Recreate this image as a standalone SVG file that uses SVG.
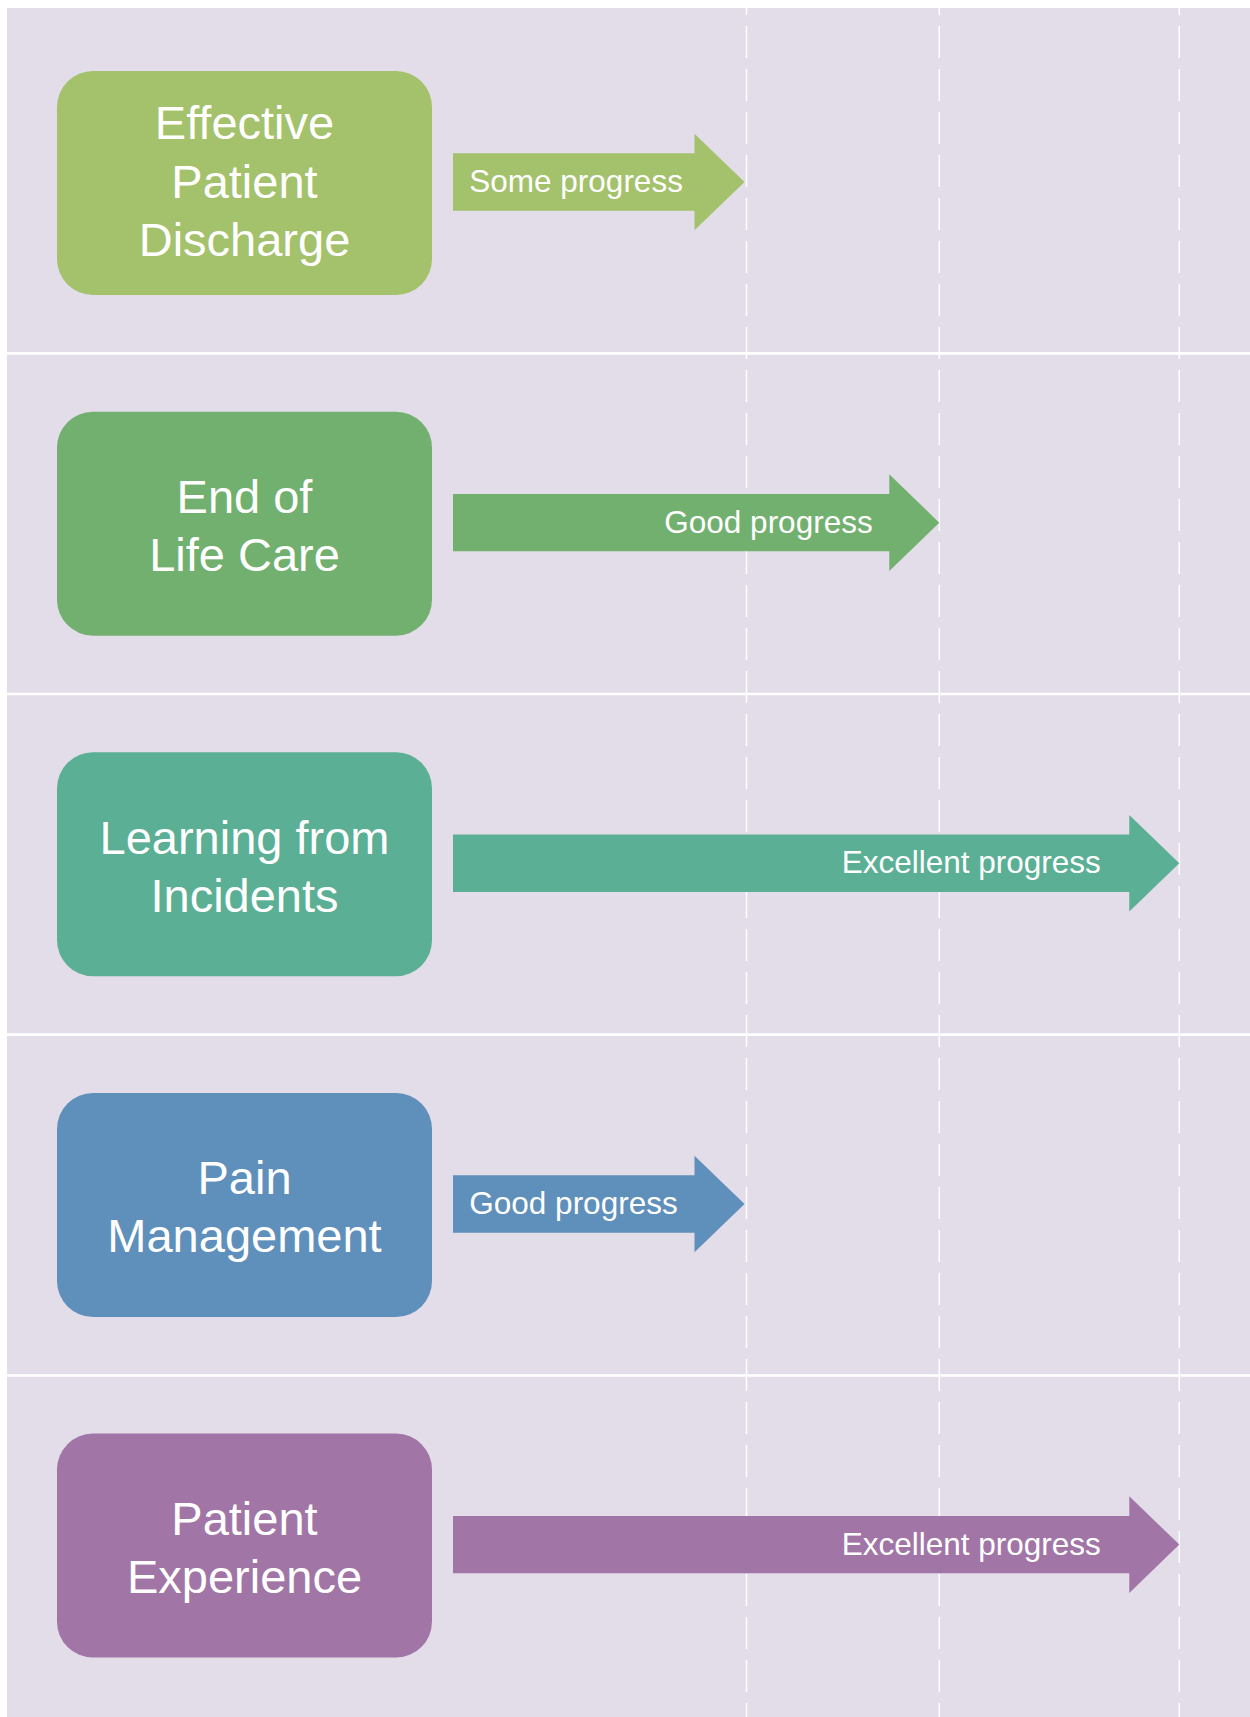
<svg xmlns="http://www.w3.org/2000/svg" width="1250" height="1717" viewBox="0 0 1250 1717">
<style>
.bg{fill:#E3DDE9}
.sep{stroke:#FFFFFF;stroke-width:2.7;fill:none}
.grid{stroke:#FFFFFF;stroke-width:1.5;fill:none;stroke-dasharray:32 11;stroke-dashoffset:25}
.box-t{font-family:"Liberation Sans",Arial,sans-serif;font-size:47px;fill:#FFFFFF;text-anchor:middle}
.arr-t{font-family:"Liberation Sans",Arial,sans-serif;font-size:31.5px;fill:#FFFFFF}
.c1{fill:#A4C16C}
.c2{fill:#72B06F}
.c3{fill:#5BAF94}
.c4{fill:#5F8FBB}
.c5{fill:#A176A6}
</style>
<rect width="1250" height="1717" fill="#FFFFFF"/>
<rect class="bg" x="7" y="8" width="1243" height="1709"/>
<g id="separators">
<line class="sep" x1="7" y1="353.3" x2="1250" y2="353.3"/>
<line class="sep" x1="7" y1="694" x2="1250" y2="694"/>
<line class="sep" x1="7" y1="1034.6" x2="1250" y2="1034.6"/>
<line class="sep" x1="7" y1="1375.5" x2="1250" y2="1375.5"/>
</g>
<g id="gridlines">
<line class="grid" x1="746.5" y1="8" x2="746.5" y2="1717"/>
<line class="grid" x1="939.3" y1="8" x2="939.3" y2="1717"/>
<line class="grid" x1="1179.3" y1="8" x2="1179.3" y2="1717"/>
</g>
<g id="node-effective-patient-discharge">
<rect class="c1" x="57" y="71" width="375" height="224" rx="36" ry="36"/>
<text class="box-t" x="244.5" y="139.3">Effective</text>
<text class="box-t" x="244.5" y="197.7">Patient</text>
<text class="box-t" x="244.5" y="256">Discharge</text>
</g>
<g id="node-end-of-life-care">
<rect class="c2" x="57" y="411.65" width="375" height="224" rx="36" ry="36"/>
<text class="box-t" x="244.5" y="513.15">End of</text>
<text class="box-t" x="244.5" y="571.15">Life Care</text>
</g>
<g id="node-learning-from-incidents">
<rect class="c3" x="57" y="752.3" width="375" height="224" rx="36" ry="36"/>
<text class="box-t" x="244.5" y="853.8">Learning from</text>
<text class="box-t" x="244.5" y="911.8">Incidents</text>
</g>
<g id="node-pain-management">
<rect class="c4" x="57" y="1092.95" width="375" height="224" rx="36" ry="36"/>
<text class="box-t" x="244.5" y="1194.45">Pain</text>
<text class="box-t" x="244.5" y="1252.45">Management</text>
</g>
<g id="node-patient-experience">
<rect class="c5" x="57" y="1433.6" width="375" height="224" rx="36" ry="36"/>
<text class="box-t" x="244.5" y="1535.1">Patient</text>
<text class="box-t" x="244.5" y="1593.1">Experience</text>
</g>
<g id="connectors">
<g id="arrow-1">
<path class="c1" d="M453,153.3 H694.5 V133.7 L744.5,182 L694.5,230.3 V210.7 H453 Z"/>
<text class="arr-t" x="469.3" y="192">Some progress</text>
</g>
<g id="arrow-2">
<path class="c2" d="M453,493.95 H889.3 V474.35 L939.3,522.65 L889.3,570.95 V551.35 H453 Z"/>
<text class="arr-t" x="664.3" y="532.65">Good progress</text>
</g>
<g id="arrow-3">
<path class="c3" d="M453,834.6 H1129.3 V815 L1179.3,863.3 L1129.3,911.6 V892 H453 Z"/>
<text class="arr-t" x="841.7" y="873.3">Excellent progress</text>
</g>
<g id="arrow-4">
<path class="c4" d="M453,1175.25 H694.5 V1155.65 L744.5,1203.95 L694.5,1252.25 V1232.65 H453 Z"/>
<text class="arr-t" x="469.3" y="1213.95">Good progress</text>
</g>
<g id="arrow-5">
<path class="c5" d="M453,1515.9 H1129.3 V1496.3 L1179.3,1544.6 L1129.3,1592.9 V1573.3 H453 Z"/>
<text class="arr-t" x="841.7" y="1554.6">Excellent progress</text>
</g>
</g>
</svg>
